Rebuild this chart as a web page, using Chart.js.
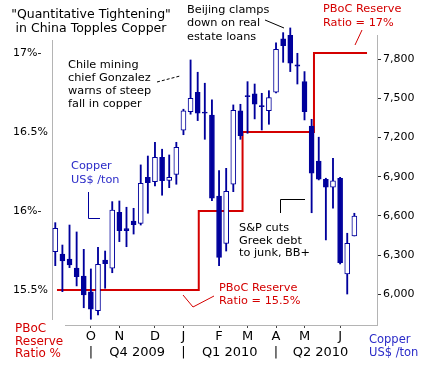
<!DOCTYPE html>
<html>
<head>
<meta charset="utf-8">
<script src="https://cdn.jsdelivr.net/npm/chart.js@4.4.1/dist/chart.umd.min.js"></script>
<style>
  html, body { margin: 0; padding: 0; background: #fff; }
  canvas { display: block; }
</style>
</head>
<body>
<canvas id="copperChart" width="425" height="365"></canvas>
<script>
// weekly copper candles (US$ /ton), Sep 2009 - Jun 2010
const opens  = [6326, 6308, 6270, 6201, 6140, 6018, 5874, 6262, 6199, 6628, 6502, 6561, 6543, 6895, 6862, 7048, 6872, 6918, 7255, 7397, 7546, 7395, 7372, 6752, 6390, 6842, 7403, 7520, 7533, 7443, 7405, 7546, 7954, 7984, 7755, 7627, 7288, 7020, 6880, 6819, 6888, 6155, 6446];
const highs  = [6548, 6377, 6530, 6477, 6344, 6194, 6360, 6331, 6709, 6714, 6666, 6658, 6990, 7058, 7163, 7110, 7066, 7163, 7416, 7793, 7699, 7615, 7487, 6946, 6964, 7449, 7454, 7627, 7609, 7538, 7558, 7925, 8002, 8038, 7844, 7704, 7339, 7202, 6888, 7041, 6895, 6467, 6620];
const lows   = [6219, 6020, 6204, 6064, 5897, 5809, 5842, 6046, 6165, 6403, 6364, 6461, 6530, 6620, 6829, 6758, 6816, 6842, 7221, 7378, 7329, 7186, 6716, 6219, 6331, 6785, 7186, 7232, 7342, 7257, 7301, 7540, 7775, 7704, 7609, 7334, 6624, 6875, 6416, 6658, 6232, 6002, 6446];
const closes = [6505, 6255, 6224, 6135, 5995, 5887, 6230, 6234, 6645, 6487, 6487, 6533, 6849, 6854, 7048, 6869, 6895, 7125, 7403, 7500, 7385, 7385, 6735, 6283, 6788, 7408, 7214, 7512, 7454, 7436, 7505, 7875, 7903, 7768, 7745, 7397, 6926, 6880, 6819, 6869, 6242, 6390, 6599];

// PBoC reserve requirement ratio (%), step changes by week position
const reserveWeeks = [0.24, 20.15, 26.3, 36.33, 43.78];
const reserveRatio = [15.5, 16, 16.5, 17, 17];

// axis ticks
const monthTicks  = [5, 9, 14, 18, 23, 27, 31, 35, 40];
const monthLabels = ['O', 'N', 'D', 'J', 'F', 'M', 'A', 'M', 'J'];
const quarterTicks  = [5, 11.5, 18, 24.5, 31, 37.25];
const quarterLabels = ['|', 'Q4 2009', '|', 'Q1 2010', '|', 'Q2 2010'];
const copperTicks = [6000, 6300, 6600, 6900, 7200, 7500, 7800];
const ratioTicks  = [15.5, 16, 16.5, 17];
const ratioLabels = ['15.5%', '16%-', '16.5%', '17%-'];

const FONT = 'DejaVu Sans';
const BLUE = '#00009c';
const RED = '#d40000';
const TEXT_BLUE = '#2b2bc8';

const bodies = opens.map((o, i) => ({ x: i, y: [o, closes[i]] }));
const wicks = lows.map((l, i) => ({ x: i, y: [l, highs[i]] }));
const reserve = reserveWeeks.map((w, i) => ({ x: w, y: reserveRatio[i] }));

// text notes and their pointer lines (canvas pixels)
const notes = [
  { lines: ['"Quantitative Tightening"', 'in China Topples Copper'], x: 91, y: 15, lh: 14, color: '#000', size: 12.5, align: 'center' },
  { lines: ['Beijing clamps', 'down on real', 'estate loans'], x: 187, y: 10, lh: 13.5, color: '#000' },
  { lines: ['PBoC Reserve', 'Ratio = 17%'], x: 323, y: 9, lh: 14, color: RED },
  { lines: ['Chile mining', 'chief Gonzalez', 'warns of steep', 'fall in copper'], x: 68, y: 65, lh: 13, color: '#000' },
  { lines: ['Copper', 'US$ /ton'], x: 71, y: 166, lh: 14, color: TEXT_BLUE },
  { lines: ['S&P cuts', 'Greek debt', 'to junk, BB+'], x: 239, y: 228, lh: 12.7, color: '#000' },
  { lines: ['PBoC Reserve', 'Ratio = 15.5%'], x: 219, y: 288, lh: 13, color: RED },
  { lines: ['PBoC', 'Reserve', 'Ratio %'], x: 15, y: 329, lh: 12.6, color: RED, size: 12 },
  { lines: ['Copper', 'US$ /ton'], x: 369, y: 340, lh: 13, color: TEXT_BLUE, size: 11.5 }
];
const pointers = [
  { pts: [[265, 20], [284, 28]], color: '#000' },
  { pts: [[362, 30], [355, 45]], color: RED },
  { pts: [[157, 82], [180, 76]], color: '#000', dash: [3, 2] },
  { pts: [[88.5, 192], [88.5, 218.5], [100, 218.5]], color: BLUE },
  { pts: [[280.5, 213], [280.5, 199.5], [305, 199.5]], color: '#000' },
  { pts: [[183, 295], [193, 307], [214, 296]], color: RED }
];

const notesPlugin = {
  id: 'notes',
  beforeDatasetsDraw(chart) {
    const { ctx, chartArea: a } = chart;
    ctx.save();
    ctx.strokeStyle = '#b4b4b4';
    ctx.lineWidth = 1;
    ctx.beginPath();
    ctx.moveTo(a.left + 0.5, a.top + 5);
    ctx.lineTo(a.left + 0.5, a.bottom - 5);
    ctx.moveTo(a.left + 13, a.bottom + 0.5);
    ctx.lineTo(a.right, a.bottom + 0.5);
    ctx.stroke();
    ctx.restore();
  },
  afterDraw(chart) {
    const ctx = chart.ctx;
    ctx.save();
    notes.forEach((n) => {
      ctx.font = (n.size || 11.3) + 'px "' + FONT + '"';
      ctx.fillStyle = n.color;
      ctx.textAlign = n.align || 'left';
      ctx.textBaseline = 'middle';
      n.lines.forEach((t, k) => ctx.fillText(t, n.x, n.y + k * n.lh));
    });
    pointers.forEach((p) => {
      ctx.strokeStyle = p.color;
      ctx.lineWidth = 1;
      ctx.setLineDash(p.dash || []);
      ctx.beginPath();
      p.pts.forEach(([x, y], k) => (k ? ctx.lineTo(x, y) : ctx.moveTo(x, y)));
      ctx.stroke();
    });
    ctx.restore();
  }
};

new Chart(document.getElementById('copperChart'), {
  type: 'bar',
  data: {
    datasets: [
      {
        label: 'Body',
        data: bodies,
        yAxisID: 'y',
        grouped: false,
        barThickness: 5,
        borderWidth: 1,
        borderSkipped: false,
        borderColor: BLUE,
        backgroundColor: opens.map((o, i) => (closes[i] >= o ? '#ffffff' : BLUE)),
        order: 0
      },
      {
        label: 'Range',
        data: wicks,
        yAxisID: 'y',
        grouped: false,
        barThickness: 1.2,
        borderWidth: 0,
        backgroundColor: BLUE,
        clip: false,
        order: 1
      },
      {
        type: 'line',
        label: 'PBoC reserve ratio',
        data: reserve,
        yAxisID: 'y2',
        stepped: true,
        borderColor: RED,
        borderWidth: 2,
        pointRadius: 0,
        fill: false,
        order: 2
      }
    ]
  },
  options: {
    responsive: false,
    animation: false,
    // autoPadding off so the fixed axis widths give the plot box
    layout: { autoPadding: false, padding: { left: 13, right: 0, top: 35, bottom: 0 } },
    plugins: { legend: { display: false }, tooltip: { enabled: false } },
    scales: {
      x: {
        type: 'linear',
        position: 'bottom',
        offset: false,
        min: -0.46,
        max: 45.18,
        weight: 0,
        afterBuildTicks: (s) => { s.ticks = monthTicks.map((v) => ({ value: v })); },
        afterFit: (s) => { s.height = 20; },
        grid: { offset: false, drawOnChartArea: false, drawTicks: true, tickLength: 3, color: '#444' },
        border: { display: false },
        ticks: {
          autoSkip: false,
          maxRotation: 0,
          padding: 1,
          color: '#000',
          font: { family: FONT, size: 13 },
          callback: (v) => monthLabels[monthTicks.indexOf(v)]
        }
      },
      xq: {
        type: 'linear',
        position: 'bottom',
        offset: false,
        min: -0.46,
        max: 45.18,
        weight: 1,
        afterBuildTicks: (s) => { s.ticks = quarterTicks.map((v) => ({ value: v })); },
        afterFit: (s) => { s.height = 20; },
        grid: { display: false, drawTicks: false },
        border: { display: false },
        ticks: {
          autoSkip: false,
          maxRotation: 0,
          padding: 0,
          color: '#000',
          font: { family: FONT, size: 13 },
          callback: (v) => quarterLabels[quarterTicks.indexOf(v)]
        }
      },
      y: {
        position: 'right',
        min: 5765,
        max: 7984,
        afterBuildTicks: (s) => { s.ticks = copperTicks.map((v) => ({ value: v })); },
        afterFit: (s) => { s.width = 48; },
        grid: { drawOnChartArea: false, tickLength: 4, color: '#333' },
        border: { display: true, color: '#b4b4b4' },
        ticks: {
          padding: 2,
          color: '#000',
          font: { family: FONT, size: 11 },
          callback: (v) => v.toLocaleString('en-US')
        }
      },
      y2: {
        position: 'left',
        min: 15.2785,
        max: 17.114,
        afterBuildTicks: (s) => { s.ticks = ratioTicks.map((v) => ({ value: v })); },
        afterFit: (s) => { s.width = 39; },
        grid: { display: false, drawTicks: false },
        border: { display: false },
        ticks: {
          crossAlign: 'far',
          padding: 0,
          color: '#000',
          font: { family: FONT, size: 11 },
          callback: (v) => ratioLabels[ratioTicks.indexOf(v)]
        }
      }
    }
  },
  plugins: [notesPlugin]
});
</script>
</body>
</html>
